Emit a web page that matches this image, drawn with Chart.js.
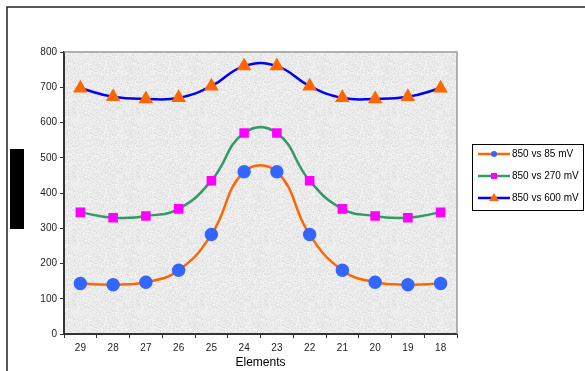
<!DOCTYPE html>
<html>
<head>
<meta charset="utf-8">
<script src="https://cdn.jsdelivr.net/npm/chart.js@4.4.0/dist/chart.umd.min.js"></script>
<style>
  html, body { margin: 0; padding: 0; background: #fff; }
  canvas { display: block; }
</style>
</head>
<body>
<canvas id="myChart" width="585" height="371"></canvas>
<script>
const categories = ['29', '28', '27', '26', '25', '24', '23', '22', '21', '20', '19', '18'];
const vs85 = [143, 140, 147, 181, 282, 460, 460, 282, 181, 147, 140, 143];
const vs270 = [345, 330, 335, 355, 435, 570, 570, 435, 355, 335, 330, 345];
const vs600 = [697, 673, 667, 670, 703, 760, 760, 703, 670, 667, 673, 697];
const seriesNames = ['850 vs 85 mV', '850 vs 270 mV', '850 vs 600 mV'];

// speckled grey fill for the plot area (like the Excel texture)
function makeTexture() {
  const c = document.createElement('canvas');
  c.width = 64; c.height = 64;
  const g = c.getContext('2d');
  const img = g.createImageData(64, 64);
  let seed = 12345;
  for (let i = 0; i < 64 * 64; i++) {
    seed = (seed * 1103515245 + 12345) & 0x7fffffff;
    const v = 224 + ((seed >> 8) % 22);
    img.data[i * 4] = v;
    img.data[i * 4 + 1] = v;
    img.data[i * 4 + 2] = v;
    img.data[i * 4 + 3] = 255;
  }
  g.putImageData(img, 0, 0);
  return c;
}

const decorations = {
  id: 'decorations',
  beforeDraw(chart) {
    const ctx = chart.ctx;
    const a = chart.chartArea;
    ctx.save();
    ctx.fillStyle = ctx.createPattern(makeTexture(), 'repeat');
    ctx.fillRect(a.left, a.top, a.right - a.left, a.bottom - a.top);
    ctx.restore();
  },
  afterDraw(chart) {
    const ctx = chart.ctx;
    const a = chart.chartArea;
    ctx.save();
    // grey top / right border of plot area
    ctx.strokeStyle = '#999';
    ctx.lineWidth = 1.5;
    ctx.beginPath();
    ctx.moveTo(a.left, a.top);
    ctx.lineTo(a.right, a.top);
    ctx.lineTo(a.right, a.bottom);
    ctx.stroke();
    // outer frame (only top and left visible)
    ctx.strokeStyle = '#222';
    ctx.lineWidth = 1.5;
    ctx.beginPath();
    ctx.moveTo(7, 371);
    ctx.lineTo(7, 7);
    ctx.lineTo(585, 7);
    ctx.stroke();
    // blacked-out axis title
    ctx.fillStyle = '#000';
    ctx.fillRect(10, 149, 14, 80);
    // legend
    ctx.fillStyle = '#fff';
    ctx.fillRect(472, 144, 112, 67);
    ctx.strokeStyle = '#000';
    ctx.lineWidth = 1;
    ctx.strokeRect(472.5, 144.5, 111, 66);
    ctx.font = '10px "Liberation Sans", Arial, sans-serif';
    ctx.textBaseline = 'middle';
    chart.data.datasets.forEach(function(ds, i) {
      const y = 154 + i * 22;
      ctx.strokeStyle = ds.borderColor;
      ctx.lineWidth = 2.5;
      ctx.beginPath();
      ctx.moveTo(478, y);
      ctx.lineTo(510, y);
      ctx.stroke();
      ctx.fillStyle = ds.pointBackgroundColor;
      ctx.beginPath();
      if (ds.pointStyle === 'circle') {
        ctx.arc(494, y, 3, 0, Math.PI * 2);
      } else if (ds.pointStyle === 'rect') {
        ctx.rect(491, y - 3, 6, 6);
      } else {
        ctx.moveTo(494, y - 5);
        ctx.lineTo(499, y + 3);
        ctx.lineTo(489, y + 3);
        ctx.closePath();
      }
      ctx.fill();
      ctx.fillStyle = '#000';
      ctx.fillText(ds.label, 512, y);
    });
    ctx.restore();
  }
};

const ctx = document.getElementById('myChart').getContext('2d');
const chart = new Chart(ctx, {
  type: 'line',
  data: {
    labels: categories,
    datasets: [{
      label: seriesNames[0],
      data: vs85,
      borderColor: '#FF6600',
      borderWidth: 2.5,
      pointStyle: 'circle',
      pointRadius: 5.5,
      pointBackgroundColor: '#3366FF',
      pointBorderColor: '#3366FF',
      tension: 0.45
    },
    {
      label: seriesNames[1],
      data: vs270,
      borderColor: '#339966',
      borderWidth: 2.5,
      pointStyle: 'rect',
      pointRadius: 5,
      pointBackgroundColor: '#FF00FF',
      pointBorderColor: '#FF00FF',
      tension: 0.45
    },
    {
      label: seriesNames[2],
      data: vs600,
      borderColor: '#0000FF',
      borderWidth: 2.5,
      pointStyle: 'triangle',
      pointRadius: 6,
      pointBackgroundColor: '#FF6600',
      pointBorderColor: '#FF6600',
      tension: 0.45
    }]
  },
  options: {
    responsive: false,
    animation: false,
    layout: { padding: { left: 0, right: 128, top: 52, bottom: 0 } },
    plugins: {
      legend: { display: false },
      tooltip: { enabled: false }
    },
    scales: {
      x: {
        offset: true,
        grid: { offset: true, drawOnChartArea: false, tickLength: 4, color: '#333', tickWidth: 1 },
        border: { color: '#333', width: 2 },
        ticks: { color: '#222', font: { size: 10, family: '"Liberation Sans", Arial, sans-serif' }, padding: 4, maxRotation: 0 },
        title: { display: true, text: 'Elements', color: '#000', font: { size: 12, family: '"Liberation Sans", Arial, sans-serif' }, padding: { top: 0, bottom: 1 } },
        afterFit: function(scale) { scale.height = 37; }
      },
      y: {
        min: 0,
        max: 800,
        ticks: { stepSize: 100, color: '#222', font: { size: 10, family: '"Liberation Sans", Arial, sans-serif' }, padding: 3 },
        grid: { drawOnChartArea: false, tickLength: 4, color: '#333', tickWidth: 1 },
        border: { color: '#333', width: 2 },
        afterFit: function(scale) { scale.width = 64; }
      }
    }
  },
  plugins: [decorations]
});
</script>
</body>
</html>
